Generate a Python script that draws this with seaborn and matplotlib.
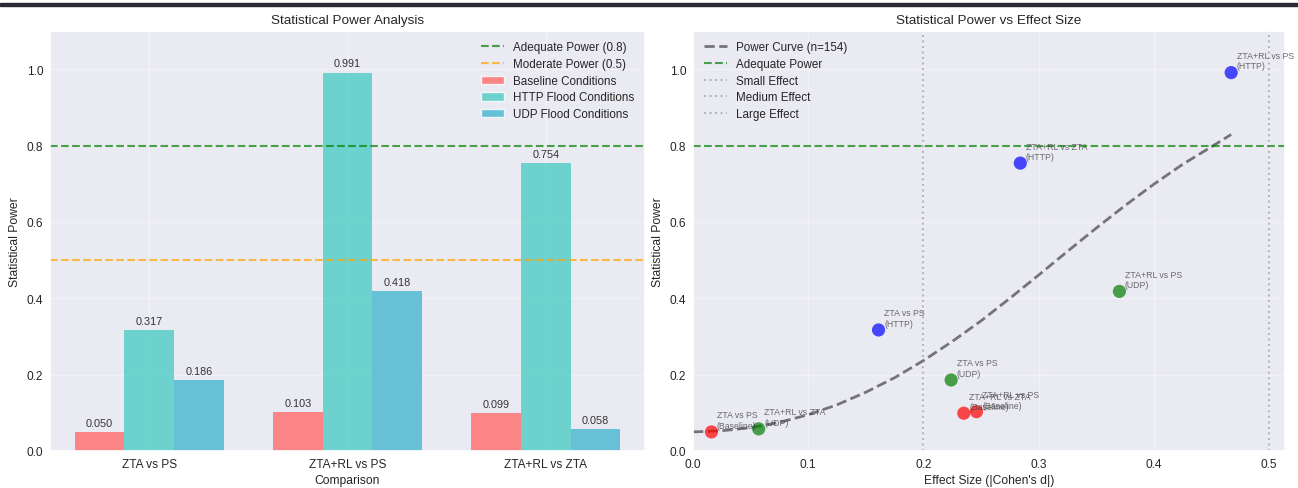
import numpy as np
import pandas as pd
import matplotlib
matplotlib.use("Agg")
import matplotlib.pyplot as plt
from matplotlib.patches import Patch, Rectangle
import seaborn as sns

# ---- data -------------------------------------------------------------
comparisons = ["ZTA vs PS", "ZTA+RL vs PS", "ZTA+RL vs ZTA"]
conditions = ["Baseline Conditions", "HTTP Flood Conditions", "UDP Flood Conditions"]
condition_tags = ["Baseline", "HTTP", "UDP"]

baseline_power = [0.050, 0.103, 0.099]
http_power = [0.317, 0.991, 0.754]
udp_power = [0.186, 0.418, 0.058]

# |Cohen's d| for each comparison under each condition
baseline_d = [0.016, 0.246, 0.235]
http_d = [0.161, 0.467, 0.284]
udp_d = [0.224, 0.370, 0.057]

# reference power curve for n=154
curve_d = [0.0, 0.025, 0.05, 0.075, 0.1, 0.125, 0.15, 0.175, 0.2, 0.225,
           0.25, 0.275, 0.3, 0.325, 0.35, 0.375, 0.4, 0.425, 0.45, 0.467]
curve_power = [0.050, 0.053, 0.061, 0.075, 0.095, 0.121, 0.154, 0.192, 0.237, 0.287,
               0.341, 0.400, 0.461, 0.523, 0.584, 0.643, 0.699, 0.751, 0.797, 0.829]

bar_colors = ["#FF6B6B", "#4ECDC4", "#45B7D1"]
point_colors = ["red", "blue", "green"]

# ---- long-form tables --------------------------------------------------
power_sets = [baseline_power, http_power, udp_power]
d_sets = [baseline_d, http_d, udp_d]
rows = []
for cond, tag, pw, dd, pc in zip(conditions, condition_tags, power_sets, d_sets, point_colors):
    for comp, p, d in zip(comparisons, pw, dd):
        rows.append({"comparison": comp, "condition": cond, "tag": tag,
                     "power": p, "d": d, "pcolor": pc})
df = pd.DataFrame(rows)

# ---- style ---------------------------------------------------------------
sns.set_theme(style="darkgrid")
plt.rcParams["font.family"] = ["Liberation Sans", "DejaVu Sans"]
plt.rcParams["text.color"] = ".15"

fig = plt.figure(figsize=(12.98, 4.89), dpi=100)
ax1 = fig.add_axes([50 / 1298, 37 / 489, 595 / 1298, 420 / 489])
ax2 = fig.add_axes([693 / 1298, 37 / 489, 592 / 1298, 420 / 489])

fig.add_artist(Rectangle((0, 1 - 7 / 489), 1, 3 / 489, transform=fig.transFigure,
                         color="#2a2a32", zorder=10))

# ---- left: grouped bars ------------------------------------------------------
sns.barplot(data=df, x="comparison", y="power", hue="condition",
            order=comparisons, hue_order=conditions, palette=bar_colors,
            saturation=1, alpha=0.8, width=0.75, errorbar=None, legend=False,
            linewidth=0, ax=ax1)

for container in ax1.containers:
    for bar in container:
        h = bar.get_height()
        ax1.annotate(f"{h:.3f}", (bar.get_x() + bar.get_width() / 2, h),
                     xytext=(0, 3), textcoords="offset points",
                     ha="center", va="bottom", fontsize=7.8, color=".2")

l_adequate = ax1.axhline(0.8, color="green", linestyle="--", alpha=0.7, linewidth=1.5,
                         label="Adequate Power (0.8)")
l_moderate = ax1.axhline(0.5, color="orange", linestyle="--", alpha=0.7, linewidth=1.5,
                         label="Moderate Power (0.5)")
handles = [l_adequate, l_moderate] + [
    Patch(facecolor=c, alpha=0.8, label=lab) for c, lab in zip(bar_colors, conditions)]
ax1.legend(handles=handles, loc="upper right", fontsize=8.4, frameon=False,
           labelspacing=0.4)

ax1.set_ylim(0, 1.1)
ax1.set_title("Statistical Power Analysis", fontsize=9.7)
ax1.set_xlabel("Comparison", fontsize=8.7, labelpad=3)
ax1.set_ylabel("Statistical Power", fontsize=8.7)

# ---- right: power vs effect size -------------------------------------------
sns.lineplot(x=curve_d, y=curve_power, ax=ax2, color="black", alpha=0.5,
             linestyle="--", linewidth=2, label="Power Curve (n=154)")
ax2.axhline(0.8, color="green", linestyle="--", alpha=0.7, linewidth=1.5,
            label="Adequate Power")
for xv, lab in zip([0.2, 0.5, 0.8], ["Small Effect", "Medium Effect", "Large Effect"]):
    ax2.axvline(xv, color="gray", linestyle=":", alpha=0.5, linewidth=1.5, label=lab)

sns.scatterplot(data=df, x="d", y="power", hue="pcolor",
                palette={c: c for c in point_colors}, s=90, alpha=0.7,
                linewidth=0, legend=False, zorder=3, ax=ax2)
for _, r in df.iterrows():
    ax2.annotate(f"{r['comparison']}\n({r['tag']})", (r["d"], r["power"]),
                 xytext=(4, 3), textcoords="offset points",
                 fontsize=6.3, alpha=0.7, color="#333333")

ax2.legend(loc="upper left", fontsize=8.4, frameon=False, labelspacing=0.4)
ax2.set_xlim(0, max(df["d"]) * 1.1)
ax2.set_ylim(0, 1.1)
ax2.set_title("Statistical Power vs Effect Size", fontsize=9.7)
ax2.set_xlabel("Effect Size (|Cohen's d|)", fontsize=8.7, labelpad=3)
ax2.set_ylabel("Statistical Power", fontsize=8.7)

for ax in (ax1, ax2):
    ax.grid(True, alpha=0.35)
    ax.tick_params(labelsize=8.6, length=0, pad=5)

fig.savefig("out.png", dpi=100)
